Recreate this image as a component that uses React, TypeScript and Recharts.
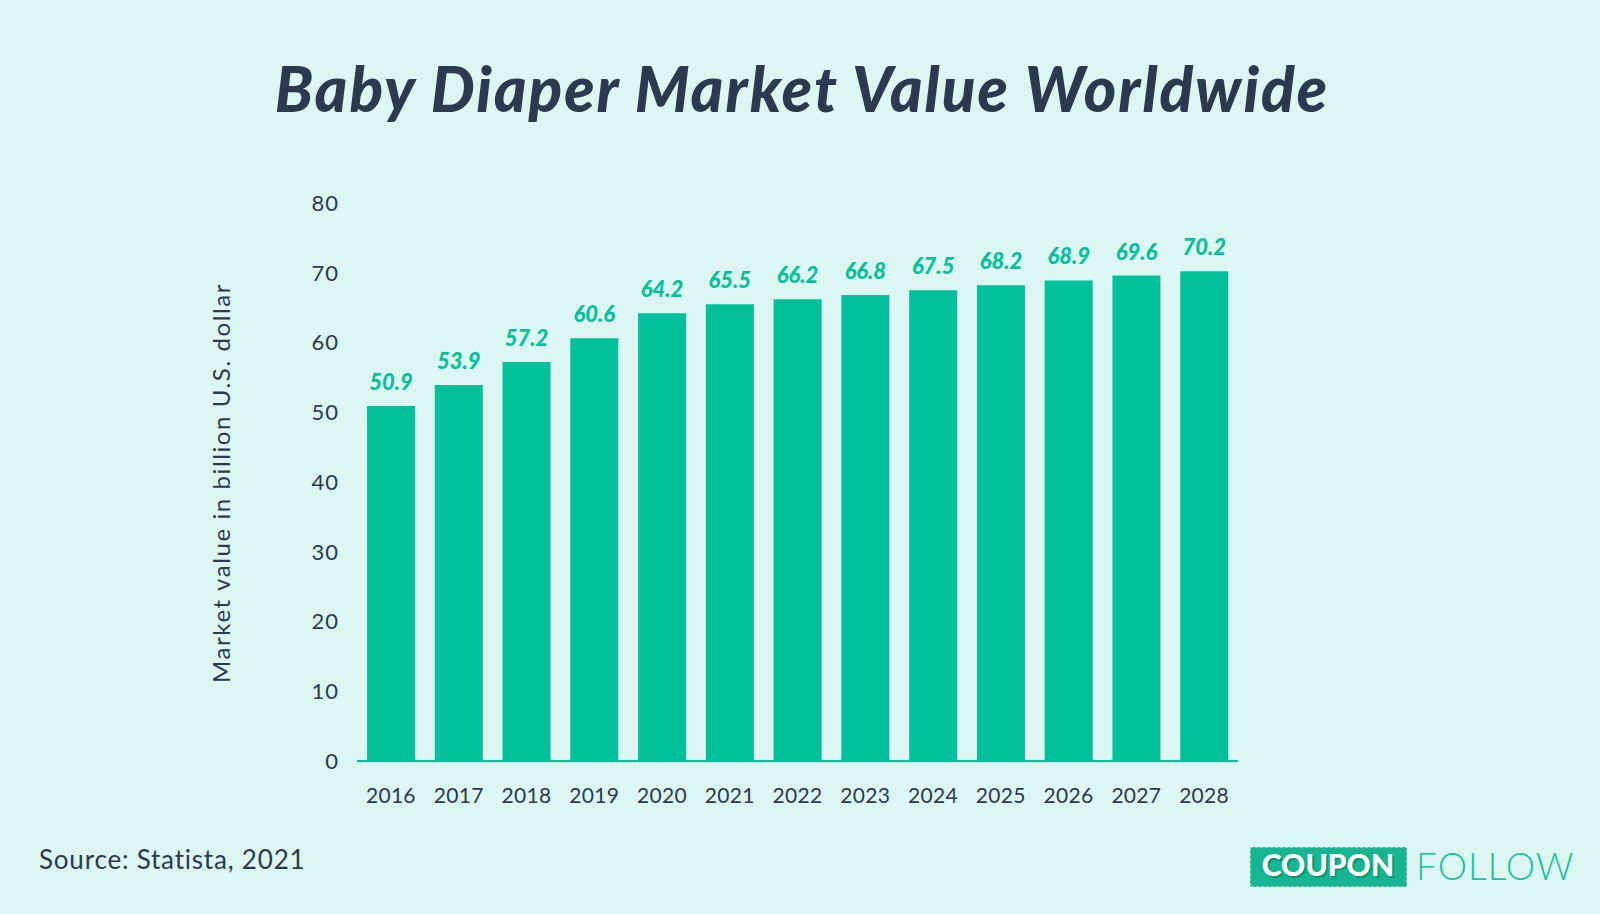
import React from 'react';
import { BarChart, Bar, XAxis, YAxis, LabelList } from 'recharts';

const years = ['2016', '2017', '2018', '2019', '2020', '2021', '2022', '2023', '2024', '2025', '2026', '2027', '2028'];
const marketValue = [50.9, 53.9, 57.2, 60.6, 64.2, 65.5, 66.2, 66.8, 67.5, 68.2, 68.9, 69.6, 70.2];
const yTicks = [0, 10, 20, 30, 40, 50, 60, 70, 80];

const data = years.map((y, i) => ({ year: y, value: marketValue[i] }));

const BG = '#dcf6f1';
const TEAL = '#00c09b';
const NAVY = '#2b3a4e';
const FONT = 'Lato, "Noto Sans", sans-serif';

export default function App() {
  return (
    <div style={{ position: 'absolute', left: 0, top: 0, width: 1600, height: 914, background: BG, fontFamily: FONT }}>
      <BarChart
        width={1600}
        height={914}
        data={data}
        margin={{ top: 203, right: 362, bottom: 123, left: 297 }}
      >
        <XAxis
          dataKey="year"
          height={30}
          tickLine={false}
          tickSize={0}
          tickMargin={27}
          axisLine={{ stroke: TEAL, strokeWidth: 2 }}
          tick={{ fill: NAVY, fontSize: 21, fontFamily: FONT, letterSpacing: 0.3 }}
          interval={0}
        />
        <YAxis
          width={60}
          domain={[0, 80]}
          ticks={yTicks}
          tickLine={false}
          tickSize={0}
          tickMargin={18}
          axisLine={false}
          tick={{ fill: NAVY, fontSize: 22, fontFamily: FONT, letterSpacing: 1 }}
        />
        <Bar dataKey="value" fill={TEAL} barSize={48} isAnimationActive={false}>
          <LabelList
            dataKey="value"
            position="top"
            offset={16}
            fill={TEAL}
            fontSize={22}
            fontWeight={900}
            fontStyle="italic"
            fontFamily={FONT}
          />
        </Bar>
      </BarChart>
      <svg width={1600} height={914} style={{ position: 'absolute', left: 0, top: 0, pointerEvents: 'none' }}>
        <text x={802} y={112} textAnchor="middle" fill={NAVY} fontSize={62} fontWeight={900} fontStyle="italic" fontFamily={FONT} letterSpacing={2}>
          Baby Diaper Market Value Worldwide
        </text>
        <text
          x={0}
          y={0}
          transform="translate(230,483) rotate(-90)"
          textAnchor="middle"
          fill={NAVY}
          fontSize={24}
          fontFamily={FONT}
          letterSpacing={1.6}
        >
          Market value in billion U.S. dollar
        </text>
        <text x={39} y={869} fill={NAVY} fontSize={26} fontFamily={FONT} letterSpacing={0.8}>
          Source: Statista, 2021
        </text>
        <rect x={1250} y={847} width={157} height={40} fill="#17b590" stroke="#ffffff" strokeWidth={1} strokeDasharray="3 2" />
        <text x={1330} y={878} textAnchor="middle" fill="#0e7f66" fontSize={30} fontWeight={900} fontFamily={FONT} opacity={0.6}>
          COUPON
        </text>
        <text x={1328} y={876} textAnchor="middle" fill="#ffffff" fontSize={30} fontWeight={900} fontFamily={FONT}>
          COUPON
        </text>
        <text x={1416} y={880} fill="#19c39a" fontSize={37} fontWeight={300} fontFamily={FONT} letterSpacing={1}>
          FOLLOW
        </text>
      </svg>
    </div>
  );
}
